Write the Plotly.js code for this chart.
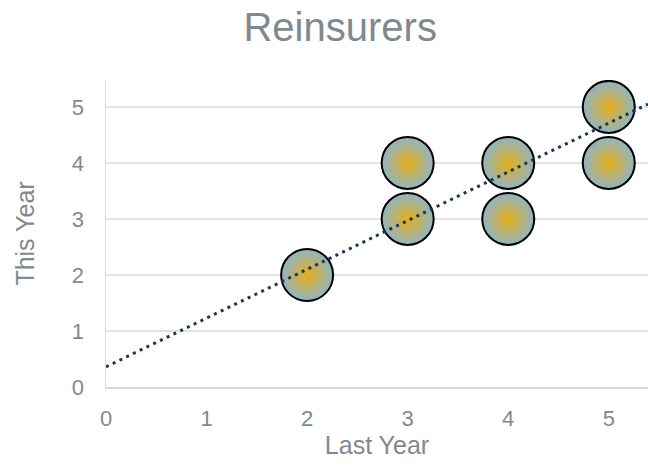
<!DOCTYPE html>
<html>
<head>
<meta charset="utf-8">
<script src="https://cdn.plot.ly/plotly-3.0.1.min.js"></script>
<style>html,body{margin:0;padding:0;background:#fff;}#chart{width:648px;height:467px;}</style>
</head>
<body>
<div id="chart"></div>
<script>
const lastYear = [2, 3, 3, 4, 4, 5, 5];
const thisYear = [2, 3, 4, 3, 4, 4, 5];
const trendIntercept = 0.36;
const trendSlope = 0.87;
const xMax = 5.39;
const yMax = 5.48;
const tickVals = [0, 1, 2, 3, 4, 5];

const trendX = [0, xMax];
const trendY = trendX.map(x => trendIntercept + trendSlope * x);

const gray = '#7f8a90';
const data = [
  {
    type: 'scatter', mode: 'markers', x: lastYear, y: thisYear,
    marker: {
      size: 52, color: '#8fb5c6',
      gradient: {type: 'radial', color: '#e6ae17'},
      line: {color: '#000000', width: 2}
    },
    hoverinfo: 'x+y', showlegend: false
  },
  {
    type: 'scatter', mode: 'lines', x: trendX, y: trendY,
    line: {color: '#1b3558', width: 3, dash: '3px,4.5px'},
    hoverinfo: 'skip', showlegend: false
  }
];

const layout = {
  width: 648, height: 467,
  margin: {l: 106, r: 0, t: 80, b: 80},
  paper_bgcolor: '#ffffff', plot_bgcolor: '#ffffff',
  font: {family: 'Liberation Sans, Arial, sans-serif', color: gray, size: 22},
  title: {text: 'Reinsurers', x: 0.525, xanchor: 'center', xref: 'container',
          y: 0.943, yanchor: 'middle', yref: 'container',
          font: {size: 40, color: gray}},
  xaxis: {
    range: [0, xMax], tickvals: tickVals, ticktext: tickVals.map(String),
    showgrid: false, zeroline: false, showline: true, linecolor: '#d9d9d9', linewidth: 1.5,
    ticks: '', ticklen: 0, ticklabelstandoff: 11, tickfont: {size: 22, color: gray}, fixedrange: true,
    title: {text: 'Last Year', font: {size: 25, color: gray}, standoff: 0}
  },
  yaxis: {
    range: [0, yMax], tickvals: tickVals, ticktext: tickVals.map(String),
    showgrid: true, gridcolor: '#e3e3e3', gridwidth: 1.5,
    zeroline: false, showline: true, linecolor: '#d9d9d9', linewidth: 1.5,
    ticks: '', ticklabelstandoff: 16, tickfont: {size: 22, color: gray}, fixedrange: true,
    title: {text: 'This Year', font: {size: 25, color: gray}, standoff: 30}
  }
};

Plotly.newPlot('chart', data, layout, {displayModeBar: false, staticPlot: true});
</script>
</body>
</html>
